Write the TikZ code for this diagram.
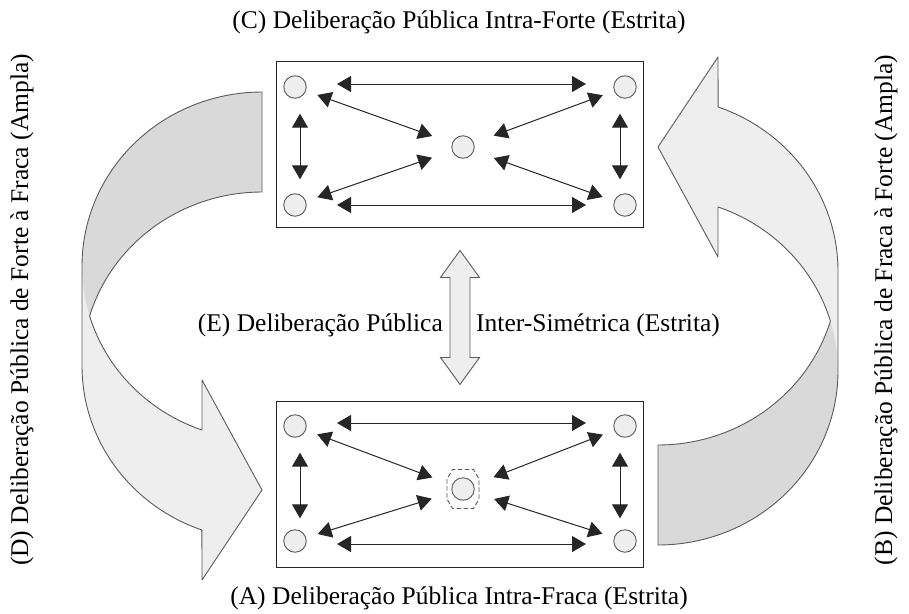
\documentclass[tikz,border=0pt]{standalone}
\usepackage{fontspec}
\setmainfont{Liberation Serif}
\usetikzlibrary{arrows.meta,calc}
\definecolor{ribbonlight}{HTML}{EEEEEE}
\definecolor{ribbondark}{HTML}{D9D9D9}
\definecolor{edgegray}{HTML}{5A5A5A}
\newcommand\RibbonShape{%
  \fill[ribbonlight] (82,266) -- (82,366)
    -- plot[variable=\t,domain=180:109.5,samples=50] ({262+180*cos(\t)},{366+174*sin(\t)})
    -- (202,580) -- (262,490) -- (202,380) -- (202,430)
    -- plot[variable=\t,domain=109.5:180,samples=50] ({262+180*cos(\t)},{266+174*sin(\t)}) -- cycle;
  \fill[ribbondark]
    plot[variable=\t,domain=270:163.3,samples=60] ({262+180*cos(\t)},{266+174*sin(\t)})
    -- plot[variable=\t,domain=196.7:270,samples=50] ({262+180*cos(\t)},{366+174*sin(\t)}) -- cycle;
  \draw[ribbonedge] (262,192) -- (262,92)
    -- plot[variable=\t,domain=270:180,samples=60] ({262+180*cos(\t)},{266+174*sin(\t)})
    -- (82,366)
    -- plot[variable=\t,domain=180:109.5,samples=50] ({262+180*cos(\t)},{366+174*sin(\t)})
    -- (202,580) -- (262,490) -- (202,380) -- (202,430)
    -- plot[variable=\t,domain=109.5:163.3,samples=40] ({262+180*cos(\t)},{266+174*sin(\t)});
  \draw[ribbonedge]
    plot[variable=\t,domain=196.7:270,samples=50] ({262+180*cos(\t)},{366+174*sin(\t)});
}
\begin{document}
\begin{tikzpicture}[x=1pt,y=-1pt,
  lbl/.style={font=\fontsize{25.5}{30}\selectfont, inner sep=0pt},
  agent/.style={circle, draw=edgegray, fill=ribbonlight, line width=0.9pt, minimum size=22.5pt, inner sep=0pt},
  panel/.style={draw=black!85, line width=1pt, fill=white, minimum width=367pt, minimum height=166pt},
  link/.style={draw=black!85, line width=1pt, {Triangle[length=14pt,width=16pt]}-{Triangle[length=14pt,width=16pt]}},
  ribbonedge/.style={draw=edgegray, line width=0.9pt, line join=round},
  halo/.style={draw=edgegray, line width=0.9pt, dash pattern=on 4.5pt off 2.5pt},
  blockarrow/.style={draw=edgegray, fill=ribbonlight, line width=0.9pt, line join=miter}
]
\useasboundingbox (0,0) rectangle (909,613);

% curved ribbons
\RibbonShape
\begin{scope}[rotate around={180:(460,318.5)}]
\RibbonShape
\end{scope}

% panels
\node[panel] (topbox) at (459.5,144) {};
\node[panel] (botbox) at (459.5,484) {};

% top panel agents
\node[agent] (tl) at (295,87) {};
\node[agent] (tr) at (625,87) {};
\node[agent] (bl) at (295,205) {};
\node[agent] (br) at (625,205) {};
\node[agent] (tc) at (463,147) {};

\draw[link, shorten <=42pt, shorten >=39pt] ([yshift=3pt]tl.center) -- ([yshift=3pt]tr.center);
\draw[link, shorten <=42pt, shorten >=39pt] (bl.center) -- (br.center);
\draw[link, shorten <=15pt, shorten >=14pt] ([xshift=5pt]tl.south) -- ([xshift=5pt]bl.north);
\draw[link, shorten <=15pt, shorten >=14pt] ([xshift=-5pt]tr.south) -- ([xshift=-5pt]br.north);
\draw[link, shorten <=12pt, shorten >=21pt] (tl) -- (tc);
\draw[link, shorten <=12pt, shorten >=21pt] (tr) -- (tc);
\draw[link, shorten <=12pt, shorten >=21pt] (bl) -- (tc);
\draw[link, shorten <=12pt, shorten >=21pt] (br) -- (tc);

% bottom panel agents
\node[agent] (tl2) at (295,426) {};
\node[agent] (tr2) at (625,426) {};
\node[agent] (bl2) at (295,541) {};
\node[agent] (br2) at (625,541) {};
\node[agent] (bc) at (463,489) {};
\draw[halo, shift={(bc)}] (-16,-10) -- (-16,10) -- (-10.5,19.5) -- (10.5,19.5) -- (16,10) -- (16,-10) -- (10.5,-19.5) -- (-10.5,-19.5) -- cycle;

\draw[link, shorten <=42pt, shorten >=39pt] ([yshift=3pt]tl2.center) -- ([yshift=3pt]tr2.center);
\draw[link, shorten <=42pt, shorten >=39pt] ([yshift=-3pt]bl2.center) -- ([yshift=-3pt]br2.center);
\draw[link, shorten <=15pt, shorten >=11pt] ([xshift=5pt]tl2.south) -- ([xshift=5pt]bl2.north);
\draw[link, shorten <=15pt, shorten >=11pt] ([xshift=-5pt]tr2.south) -- ([xshift=-5pt]br2.north);
\draw[link, shorten <=12pt, shorten >=21pt] (tl2) -- (bc);
\draw[link, shorten <=12pt, shorten >=21pt] (tr2) -- (bc);
\draw[link, shorten <=12pt, shorten >=21pt] (bl2) -- (bc);
\draw[link, shorten <=12pt, shorten >=21pt] (br2) -- (bc);

% vertical block double arrow between panels
\coordinate (ua) at ($(topbox.south)+(0.5,23)$);
\coordinate (da) at ($(botbox.north)+(0.5,-16)$);
\draw[blockarrow] (ua) -- ++(19.5,27) -- ++(-9.5,0) -- ($(da)+(10,-27)$) -- ++(9.5,0) -- (da)
  -- ++(-19.5,-27) -- ++(9.5,0) -- ($(ua)+(-10,27)$) -- ++(-9.5,0) -- cycle;

% labels
\node[lbl] (tC) at (459,22) {(C) Deliberação Pública Intra-Forte (Estrita)};
\node[lbl] (tA) at (459,598) {(A) Deliberação Pública Intra-Fraca (Estrita)};
\node[lbl, anchor=east] (tE1) at (443,325) {(E) Deliberação Pública};
\node[lbl, anchor=west] (tE2) at (476,325) {Inter-Simétrica (Estrita)};
\node[lbl, rotate=90] (tD) at (22,310) {(D) Deliberação Pública de Forte à Fraca (Ampla)};
\node[lbl, rotate=90] (tB) at (886,310) {(B) Deliberação Pública de Fraca à Forte (Ampla)};
\end{tikzpicture}
\end{document}
